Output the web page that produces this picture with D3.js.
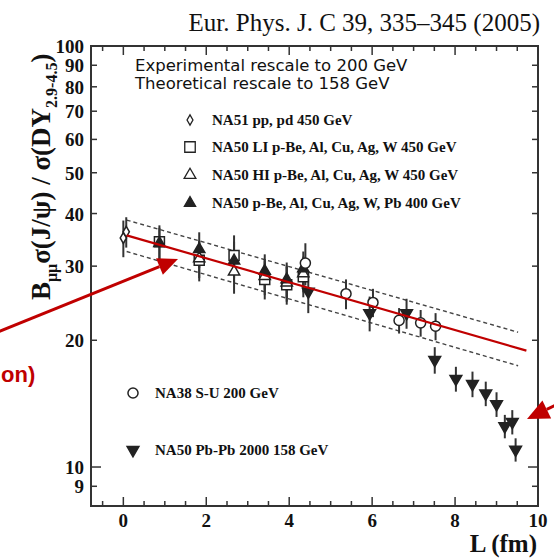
<!DOCTYPE html>
<html>
  <head>
    <meta charset="utf-8" />
    <title>J/psi over DY vs L</title>
    <script src="https://d3js.org/d3.v7.min.js"></script>
    <style>
      body { margin: 0; background: #fff; }
      .tick-label { font: bold 19px "Liberation Serif", serif; fill: #111; }
      .leg { font: bold 15px "Liberation Serif", serif; fill: #111; }
      .note { font: 16.5px "DejaVu Sans", sans-serif; fill: #111; }
    </style>
  </head>
  <body>
    <svg width="554" height="560"></svg>
    <script>
      // ---- data ----
      const na51L = [0.0, 0.07], na51V = [35.0, 36.2], na51E = [3.5, 3.0];
      const liL = [0.87, 1.83, 2.67, 3.41, 3.94, 4.34];
      const liV = [34.3, 31.0, 31.8, 27.9, 27.1, 28.3];
      const liE = [3.2, 3.4, 3.7, 2.9, 2.8, 3.0];
      const hiL = [1.83, 2.67, 3.41, 3.94, 4.34];
      const hiV = [31.3, 29.1, 28.4, 27.4, 28.8];
      const hiE = [3.2, 3.3, 2.8, 2.7, 2.8];
      const p400L = [0.87, 1.83, 2.67, 3.41, 3.94, 4.34];
      const p400V = [34.0, 32.9, 30.9, 29.2, 27.9, 29.6];
      const p400E = [3.0, 3.2, 3.4, 2.8, 2.7, 2.9];
      const na38L = [4.39, 5.37, 6.02, 6.65, 7.17, 7.53];
      const na38V = [30.5, 25.8, 24.6, 22.3, 22.0, 21.6];
      const na38E = [3.5, 2.1, 1.9, 1.55, 1.6, 1.6];
      const pbL = [4.46, 5.94, 6.83, 7.51, 8.02, 8.42, 8.74, 9.0, 9.2, 9.38, 9.46];
      const pbV = [26.1, 23.2, 23.2, 17.96, 16.2, 15.75, 14.95, 14.1, 12.5, 12.8, 11.0];
      const pbE = [2.9, 2.2, 1.9, 1.3, 1.1, 1.1, 1.0, 0.95, 0.8, 0.85, 0.7];

      // absorption fit and its error band (end points)
      const fitL = [0.08, 9.72], fitV = [35.5, 18.9];
      const bandL = [0.08, 9.52], bandHi = [38.6, 20.9], bandLo = [32.5, 17.4];

      const xTicks = [0, 2, 4, 6, 8, 10];
      const yTicks = [9, 10, 20, 30, 40, 50, 60, 70, 80, 90, 100];

      const svg = d3.select("svg");
      const pl = 91, pr = 538, pt = 46, pb = 506;
      const red = "#c00000", ink = "#222";

      const x = d3.scaleLinear().domain([-0.78, 10]).range([pl, pr]);
      const y = d3.scaleLog().domain([8.08, 100]).range([pb, pt]);

      // title
      svg.append("text")
         .attr("x", 540).attr("y", 31)
         .attr("text-anchor", "end")
         .style("font", "25px 'Liberation Serif', serif")
         .attr("fill", "#111")
         .text("Eur. Phys. J. C 39, 335–345 (2005)");

      // frame
      svg.append("rect")
         .attr("x", pl).attr("y", pt)
         .attr("width", pr - pl).attr("height", pb - pt)
         .attr("fill", "none").attr("stroke", "#333").attr("stroke-width", 2);

      // x ticks (bottom and top, pointing in)
      const xMinor = d3.range(-0.5, 10.01, 0.5);
      xMinor.forEach(v => {
        const major = xTicks.includes(v);
        const len = major ? 9 : 5;
        svg.append("line").attr("x1", x(v)).attr("x2", x(v))
           .attr("y1", pb).attr("y2", pb - len)
           .attr("stroke", "#333").attr("stroke-width", 1.5);
        svg.append("line").attr("x1", x(v)).attr("x2", x(v))
           .attr("y1", pt).attr("y2", pt + len)
           .attr("stroke", "#333").attr("stroke-width", 1.5);
      });
      xTicks.forEach(v => {
        svg.append("text").attr("class", "tick-label")
           .attr("x", x(v)).attr("y", 527)
           .attr("text-anchor", "middle").text(v);
      });

      // y ticks (left and right)
      yTicks.forEach(v => {
        const len = (v === 10 || v === 100) ? 10 : 6;
        svg.append("line").attr("x1", pl).attr("x2", pl + len)
           .attr("y1", y(v)).attr("y2", y(v))
           .attr("stroke", "#333").attr("stroke-width", 1.5);
        svg.append("line").attr("x1", pr).attr("x2", pr - len)
           .attr("y1", y(v)).attr("y2", y(v))
           .attr("stroke", "#333").attr("stroke-width", 1.5);
        svg.append("text").attr("class", "tick-label")
           .attr("x", 84).attr("y", y(v) + 7)
           .attr("text-anchor", "end").text(v);
      });

      // axis titles
      svg.append("text").attr("class", "tick-label")
         .style("font-size", "25px")
         .attr("x", 537).attr("y", 552)
         .attr("text-anchor", "end").text("L (fm)");

      const yl = svg.append("text")
         .attr("transform", "translate(50,300) rotate(-90)")
         .style("font", "bold 27px 'Liberation Serif', serif")
         .attr("fill", "#111");
      yl.append("tspan").text("B");
      yl.append("tspan").attr("dy", 7).style("font-size", "16px").text("μμ");
      yl.append("tspan").attr("dy", -7).text("σ(J/ψ) / σ(DY");
      yl.append("tspan").attr("dy", 7).style("font-size", "16px").text("2.9-4.5");
      yl.append("tspan").attr("dy", -7).text(")");

      // band and fit
      const line = d3.line().x(d => x(d[0])).y(d => y(d[1]));
      [bandHi, bandLo].forEach(b => {
        svg.append("path")
           .attr("d", line(d3.zip(bandL, b)))
           .attr("fill", "none").attr("stroke", "#444")
           .attr("stroke-width", 1.4).attr("stroke-dasharray", "4,3");
      });

      // data series
      const sym = (type, size) => d3.symbol().type(type).size(size)();
      const series = [
        { L: na51L, V: na51V, E: na51E, type: d3.symbolDiamond, size: 34, fill: "#fff" },
        { L: liL, V: liV, E: liE, type: d3.symbolSquare, size: 100, fill: "#fff" },
        { L: hiL, V: hiV, E: hiE, type: d3.symbolTriangle, size: 55, fill: "#fff" },
        { L: p400L, V: p400V, E: p400E, type: d3.symbolTriangle, size: 55, fill: ink },
        { L: na38L, V: na38V, E: na38E, type: d3.symbolCircle, size: 80, fill: "#fff" },
        { L: pbL, V: pbV, E: pbE, type: d3.symbolTriangle, size: 60, fill: ink, down: true }
      ];

      // error bars first
      series.forEach(s => {
        s.L.forEach((l, i) => {
          svg.append("line")
             .attr("x1", x(l)).attr("x2", x(l))
             .attr("y1", y(s.V[i] + s.E[i])).attr("y2", y(s.V[i] - s.E[i]))
             .attr("stroke", "#333").attr("stroke-width", 2);
        });
      });
      series.forEach(s => {
        s.L.forEach((l, i) => {
          svg.append("path")
             .attr("d", sym(s.type, s.size))
             .attr("transform", "translate(" + x(l) + "," + y(s.V[i]) + ")" + (s.down ? " rotate(180)" : ""))
             .attr("fill", s.fill).attr("stroke", ink).attr("stroke-width", 1.5);
        });
      });

      svg.append("path")
         .attr("d", line(d3.zip(fitL, fitV)))
         .attr("fill", "none").attr("stroke", red).attr("stroke-width", 2.2);

      // notes and legends
      svg.append("text").attr("class", "note").attr("x", 135).attr("y", 71)
         .text("Experimental rescale to 200 GeV");
      svg.append("text").attr("class", "note").attr("x", 135).attr("y", 89)
         .text("Theoretical rescale to 158 GeV");

      const legendTop = [
        { label: "NA51 pp, pd 450 GeV", type: d3.symbolDiamond, size: 30, fill: "#fff", y: 120 },
        { label: "NA50 LI p-Be, Al, Cu, Ag, W 450 GeV", type: d3.symbolSquare, size: 110, fill: "#fff", y: 147 },
        { label: "NA50 HI p-Be, Al, Cu, Ag, W 450 GeV", type: d3.symbolTriangle, size: 60, fill: "#fff", y: 175 },
        { label: "NA50 p-Be, Al, Cu, Ag, W, Pb 400 GeV", type: d3.symbolTriangle, size: 55, fill: ink, y: 203 }
      ];
      legendTop.forEach(d => {
        svg.append("path").attr("d", sym(d.type, d.size))
           .attr("transform", "translate(190," + d.y + ")")
           .attr("fill", d.fill).attr("stroke", ink).attr("stroke-width", 1.3);
        svg.append("text").attr("class", "leg").attr("x", 212).attr("y", d.y + 5).text(d.label);
      });

      const legendLow = [
        { label: "NA38 S-U 200 GeV", type: d3.symbolCircle, size: 80, fill: "#fff", y: 393 },
        { label: "NA50 Pb-Pb 2000 158 GeV", type: d3.symbolTriangle, size: 60, fill: ink, y: 450, down: true }
      ];
      legendLow.forEach(d => {
        svg.append("path").attr("d", sym(d.type, d.size))
           .attr("transform", "translate(133," + d.y + ")" + (d.down ? " rotate(180)" : ""))
           .attr("fill", d.fill).attr("stroke", ink).attr("stroke-width", 1.5);
        svg.append("text").attr("class", "leg").attr("x", 155).attr("y", d.y + 5).text(d.label);
      });

      // red annotation arrows
      function arrow(x0, y0, x1, y1, hl, hw) {
        const a = Math.atan2(y1 - y0, x1 - x0);
        const bx = x1 - hl * Math.cos(a), by = y1 - hl * Math.sin(a);
        svg.append("line").attr("x1", x0).attr("y1", y0).attr("x2", bx).attr("y2", by)
           .attr("stroke", red).attr("stroke-width", 3);
        const p = [[x1, y1],
                   [bx + hw * Math.sin(a), by - hw * Math.cos(a)],
                   [bx - hw * Math.sin(a), by + hw * Math.cos(a)]];
        svg.append("path").attr("d", "M" + p.join("L") + "Z").attr("fill", red);
      }
      arrow(-2, 332, 178, 259, 20, 9);
      arrow(562, 402, 527, 419, 22, 10);

      svg.append("text").attr("x", 1).attr("y", 382)
         .style("font", "bold 22px 'Liberation Sans', sans-serif")
         .attr("fill", red).text("on)");
    </script>
  </body>
</html>
